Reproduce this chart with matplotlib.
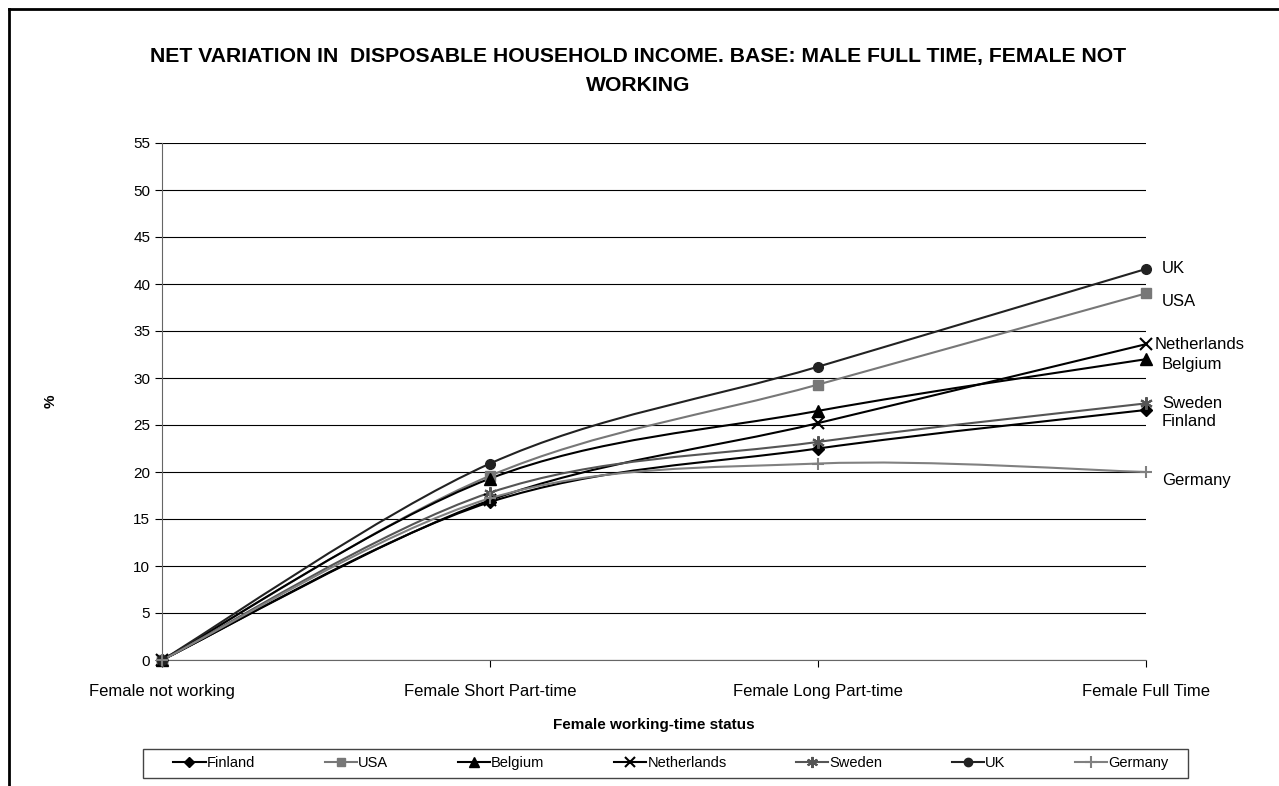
import numpy as np
import matplotlib
matplotlib.use("Agg")
import matplotlib.pyplot as plt
from matplotlib.path import Path
from matplotlib.patches import PathPatch, Rectangle
from matplotlib.lines import Line2D

plt.rcParams['font.family'] = ['Liberation Sans', 'DejaVu Sans']

# categories and series values (% change)
categories = ["Female not working", "Female Short Part-time",
              "Female Long Part-time", "Female Full Time"]
countries = ["Finland", "USA", "Belgium", "Netherlands", "Sweden", "UK", "Germany"]
finland = [0, 16.8, 22.5, 26.6]
usa = [0, 19.6, 29.3, 39.0]
belgium = [0, 19.3, 26.5, 32.0]
netherlands = [0, 17.0, 25.2, 33.6]
sweden = [0, 17.8, 23.2, 27.3]
uk = [0, 20.9, 31.2, 41.6]
germany = [0, 17.2, 20.9, 20.0]
series = [finland, usa, belgium, netherlands, sweden, uk, germany]

colors = ["#000000", "#777777", "#000000", "#000000", "#555555", "#222222", "#808080"]
markers = ["D", "s", "^", "x", (6, 2, 0), "o", "+"]
msizes = [6, 7, 8, 8, 9, 7, 9]
label_dx = [11.5, 11.5, 11.5, 6.5, 11.5, 11.5, 11.5]
label_dy = [-8, -6, -3.5, 0, 0, 0, -6]


def smooth_path(xs, ys):
    # Excel-style smoothed line: cubic Bezier through the points
    pts = np.column_stack([xs, ys]).astype(float)
    n = len(pts)
    verts = [pts[0]]
    codes = [Path.MOVETO]
    for i in range(n - 1):
        p_prev = pts[max(i - 1, 0)]
        p_next2 = pts[min(i + 2, n - 1)]
        c1 = pts[i] + (pts[i + 1] - p_prev) / 6
        c2 = pts[i + 1] - (p_next2 - pts[i]) / 6
        verts += [c1, c2, pts[i + 1]]
        codes += [Path.CURVE4] * 3
    return Path(verts, codes)


fig = plt.figure(figsize=(12.79, 7.86), dpi=100)
ax = fig.add_axes([162 / 1279, 1 - 660 / 786, (1146 - 162) / 1279, (660 - 143) / 786])

x = np.arange(len(categories))
handles = []
for name, vals, c, m, ms, dx, dy in zip(countries, series, colors, markers, msizes, label_dx, label_dy):
    mew = 1.5 if m in ("x", "+") or isinstance(m, tuple) else 1
    patch = PathPatch(smooth_path(x, vals), facecolor="none", edgecolor=c, lw=1.5,
                      transform=ax.transData, zorder=3)
    ax.add_patch(patch)
    ax.plot(x, vals, linestyle="none", marker=m, color=c, markersize=ms,
            markeredgewidth=mew, zorder=4, clip_on=False)
    ax.annotate(name, (x[-1], vals[-1]), xytext=(dx, dy), textcoords="offset points",
                fontsize=12, va="center", ha="left", annotation_clip=False)
    handles.append(Line2D([], [], color=c, lw=1.5, marker=m, markersize=ms - 1,
                          markeredgewidth=mew))

ax.set_xlim(0, 3)
ax.set_ylim(0, 55)
ax.set_yticks(np.arange(0, 56, 5))
ax.set_xticks(x)
ax.set_xticklabels(categories, fontsize=12)
ax.tick_params(axis="y", labelsize=11, length=5, direction="out")
ax.tick_params(axis="x", length=5, direction="out", pad=12)
ax.yaxis.grid(True, color="black", lw=0.8)
ax.set_axisbelow(True)
for s in ["top", "right"]:
    ax.spines[s].set_visible(False)
ax.spines["left"].set_color("#666666")
ax.spines["bottom"].set_color("#666666")

ax.set_xlabel("Female working-time status", fontsize=11, fontweight="bold", labelpad=14)
ax.set_ylabel("%", fontsize=11, fontweight="bold")
ax.yaxis.set_label_coords((58 - 162) / 984, 0.5)

fig.text(638 / 1279, 1 - 71 / 786,
         "NET VARIATION IN  DISPOSABLE HOUSEHOLD INCOME. BASE: MALE FULL TIME, FEMALE NOT\nWORKING",
         ha="center", va="center", fontsize=15.2, fontweight="bold", linespacing=1.65)

leg = fig.legend(handles, countries, loc="center", ncol=7,
                 bbox_to_anchor=(671 / 1279, 1 - 763 / 786), fontsize=10.5,
                 frameon=False, handlelength=2.2, handletextpad=0.1,
                 columnspacing=4.75)
fig.add_artist(Rectangle((143 / 1279, 1 - 778 / 786), (1188 - 143) / 1279, 29 / 786,
                         facecolor="none", edgecolor="#444444", lw=1,
                         transform=fig.transFigure))

# outer chart border (clipped at right and bottom)
fig.add_artist(Line2D([9 / 1279, 9 / 1279], [0, 1 - 9 / 786], color="black", lw=2,
                      transform=fig.transFigure))
fig.add_artist(Line2D([9 / 1279, 1], [1 - 9 / 786, 1 - 9 / 786], color="black", lw=2,
                      transform=fig.transFigure))

fig.savefig("out.png", dpi=100)
